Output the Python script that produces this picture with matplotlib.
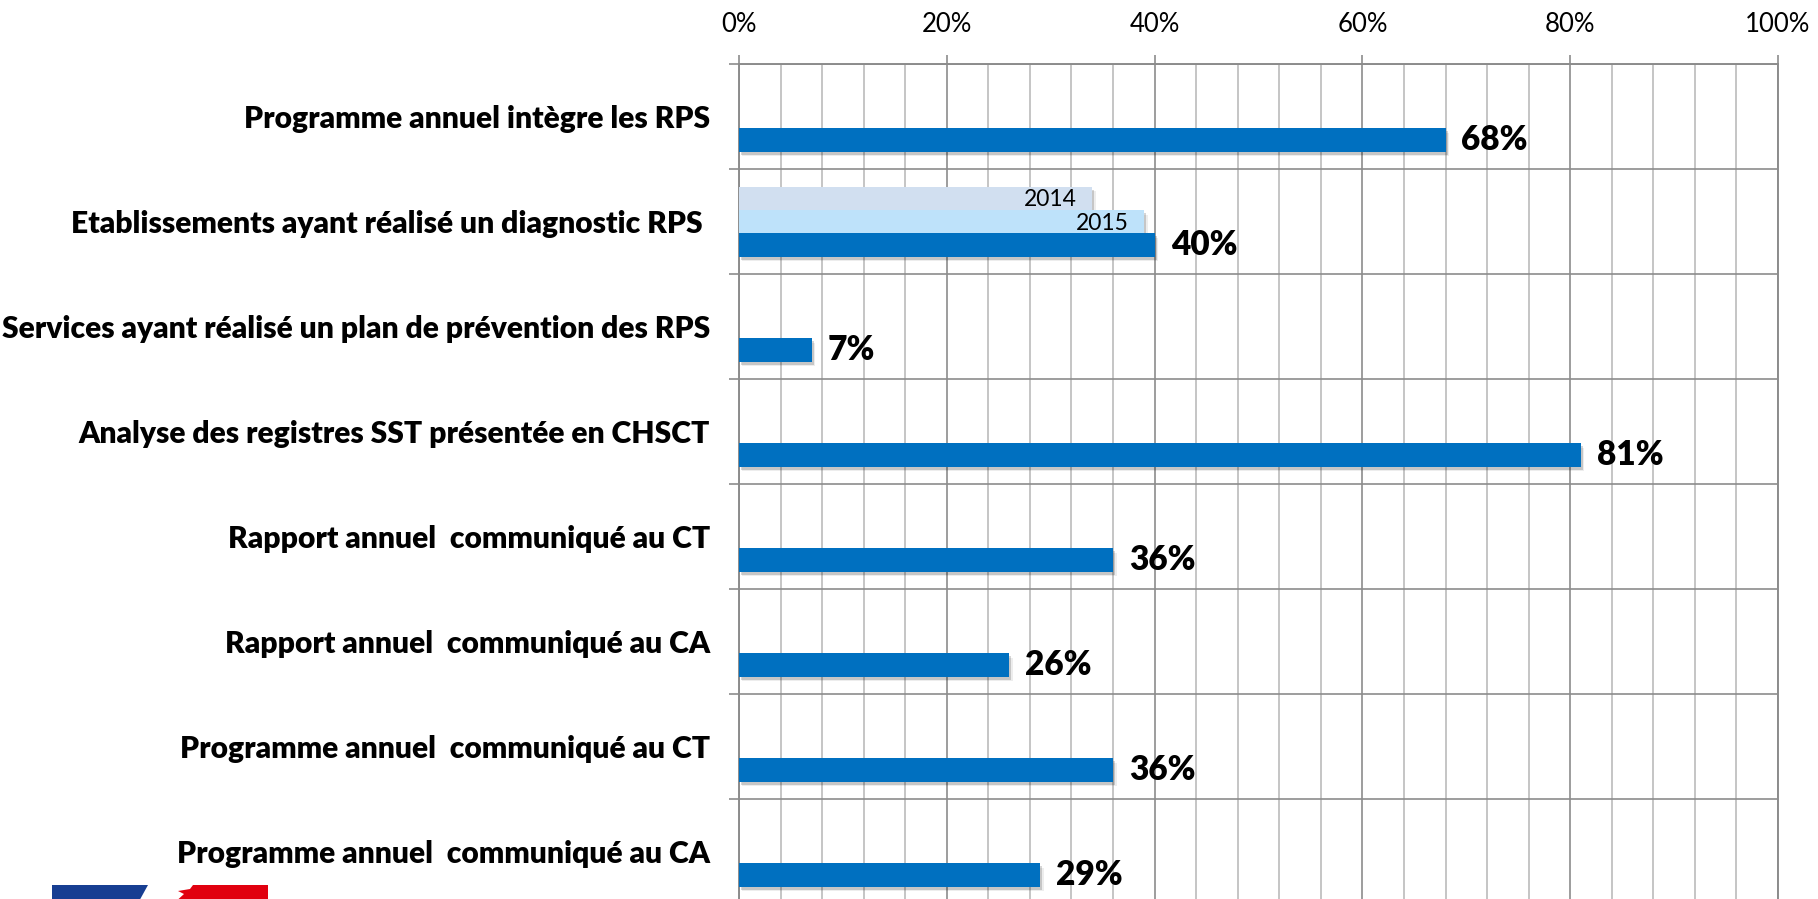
import matplotlib
matplotlib.use("Agg")
import matplotlib.pyplot as plt
import numpy as np
from matplotlib import patheffects as pe
from matplotlib.patches import Polygon
from matplotlib.ticker import MultipleLocator, FixedLocator

# ---------------- data ----------------
categories = [
    "Programme annuel intègre les RPS",
    "Etablissements ayant réalisé un diagnostic RPS ",
    "Services ayant réalisé un plan de prévention des RPS",
    "Analyse des registres SST présentée en CHSCT",
    "Rapport annuel  communiqué au CT",
    "Rapport annuel  communiqué au CA",
    "Programme annuel  communiqué au CT",
    "Programme annuel  communiqué au CA",
]
values_2014 = [np.nan, 34, np.nan, np.nan, np.nan, np.nan, np.nan, np.nan]
values_2015 = [np.nan, 39, np.nan, np.nan, np.nan, np.nan, np.nan, np.nan]
values_current = [68, 40, 7, 81, 36, 26, 36, 29]
series_names = ["2014", "2015"]
x_ticks = [0, 20, 40, 60, 80, 100]
x_tick_labels = ["0%", "20%", "40%", "60%", "80%", "100%"]

# ---------------- style ----------------
FONT = "Lato"
plt.rcParams["font.family"] = [FONT, "DejaVu Sans"]
C_2014 = "#D1DFF0"
C_2015 = "#BEE2FA"
C_MAIN = "#0070C0"
GRID_MAJOR = "#8C8C8C"
GRID_MINOR = "#BBBBBB"
LABEL_WEIGHT = "heavy"

W, H = 1818, 899
fig = plt.figure(figsize=(W / 100, H / 100), dpi=100)
ax_left, ax_top_px, ax_w, ax_h = 739, 64.3, 1039, 840
ax = fig.add_axes([ax_left / W, (H - ax_top_px - ax_h) / H, ax_w / W, ax_h / H])

n = len(categories)
y = np.arange(n)
h = 0.222

shadow = [pe.SimplePatchShadow(offset=(1.5, -2.0), shadow_rgbFace="#000000", alpha=0.16),
          pe.SimplePatchShadow(offset=(2.5, -3.2), shadow_rgbFace="#000000", alpha=0.07),
          pe.Normal()]

ax.barh(y - h, values_2014, height=h, color=C_2014, zorder=3, path_effects=shadow)
ax.barh(y, values_2015, height=h, color=C_2015, zorder=3, path_effects=shadow)
ax.barh(y + h, values_current, height=h, color=C_MAIN, zorder=3, path_effects=shadow)

ax.set_xlim(0, 100)
ax.set_ylim(n - 0.5, -0.5)

# labels for previous years (inside end)
for vals, name, off in zip([values_2014, values_2015], series_names, [-h, 0]):
    for yi, v in zip(y, vals):
        if np.isnan(v):
            continue
        ax.annotate(name, xy=(v, yi + off), xytext=(-11, -1), textcoords="offset points",
                    ha="right", va="center", fontsize=16.5, color="black", zorder=5)

# main labels
for yi, v in zip(y, values_current):
    ax.annotate(f"{v}%", xy=(v, yi + h), xytext=(11.5, 0), textcoords="offset points",
                ha="left", va="center", fontsize=24, fontweight=LABEL_WEIGHT,
                color="black", zorder=5)

# x axis on top
ax.xaxis.set_ticks_position("top")
ax.xaxis.set_label_position("top")
ax.set_xticks(x_ticks)
ax.set_xticklabels(x_tick_labels)
ax.xaxis.set_minor_locator(MultipleLocator(4))
ax.tick_params(axis="x", which="major", length=6.5, width=1.2, color=GRID_MAJOR,
               labelsize=18.5, pad=13, direction="out")
ax.tick_params(axis="x", which="minor", length=0)

# y axis
ax.set_yticks(y)
ax.set_yticklabels(categories)
ax.yaxis.set_minor_locator(FixedLocator(np.arange(-0.5, n, 1.0)))
ax.tick_params(axis="y", which="major", length=0, pad=21)
ax.tick_params(axis="y", which="minor", length=7.2, width=1.2, color=GRID_MAJOR, direction="out")
for t in ax.get_yticklabels():
    t.set_fontweight(LABEL_WEIGHT)
    t.set_fontsize(20)

ax.grid(which="major", axis="x", color=GRID_MAJOR, lw=1.2, zorder=0)
ax.grid(which="minor", axis="x", color=GRID_MINOR, lw=1.2, zorder=0)
ax.grid(which="minor", axis="y", color=GRID_MAJOR, lw=1.2, zorder=0)
ax.set_axisbelow(True)

for s in ["left", "top", "right"]:
    ax.spines[s].set_color(GRID_MAJOR)
    ax.spines[s].set_linewidth(1.4)
ax.spines["bottom"].set_visible(False)

# fit category label size to reference width of the longest label
fig.canvas.draw()
r = fig.canvas.get_renderer()
widest = max(t.get_window_extent(r).width for t in ax.get_yticklabels())
fs = 20 * 708.0 / widest
for t in ax.get_yticklabels():
    t.set_fontsize(fs)

# partial logo at bottom-left (decoration)
def px(pts):
    return [(x / W, (H - yy) / H) for x, yy in pts]

fig.add_artist(Polygon(px([(52, 885), (148, 885), (140, 899.5), (52, 899.5)]),
                       closed=True, transform=fig.transFigure, color="#173E92", lw=0))
fig.add_artist(Polygon(px([(193, 885), (268, 885), (268, 899.5), (178, 899.5), (184, 894),
                           (178, 891), (190, 889)]),
                       closed=True, transform=fig.transFigure, color="#E1000F", lw=0))

fig.savefig("out.png", dpi=100, facecolor="white")
